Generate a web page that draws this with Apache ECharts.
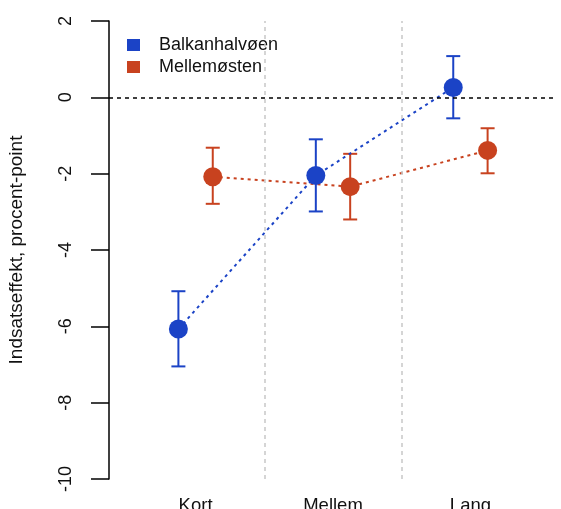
<!DOCTYPE html>
<html>
<head>
<meta charset="utf-8">
<script src="https://cdn.jsdelivr.net/npm/echarts@6/dist/echarts.min.js"></script>
<style>
  html, body { margin: 0; padding: 0; background: #fff; }
  #main { width: 561px; height: 509px; }
</style>
</head>
<body>
<div id="main"></div>
<script>
// data
var categories = ['Kort', 'Mellem', 'Lang'];
var yTicks = [-10, -8, -6, -4, -2, 0, 2];

var balkanEst = [-6.07, -2.05, 0.26];
var balkanLow = [-7.05, -2.99, -0.55];
var balkanHigh = [-5.08, -1.10, 1.08];

var mellemEst = [-2.08, -2.34, -1.39];
var mellemLow = [-2.79, -3.20, -1.99];
var mellemHigh = [-1.32, -1.48, -0.81];

var blue = '#1b43c6';
var red = '#c8421f';
var font = 'Liberation Sans, Arial, sans-serif';

// category i sits at x = i + 1, the two groups are shifted left / right
function points(est, shift) {
  return est.map(function (v, i) { return [i + 1 + shift, v]; });
}
function bars(low, high, shift) {
  return low.map(function (v, i) { return [i + 1 + shift, v, high[i]]; });
}

function errorBar(color) {
  return function (params, api) {
    var lo = api.coord([api.value(0), api.value(1)]);
    var hi = api.coord([api.value(0), api.value(2)]);
    var w = 7;
    var style = { stroke: color, lineWidth: 2 };
    return {
      type: 'group',
      children: [
        { type: 'line', shape: { x1: lo[0], y1: lo[1], x2: hi[0], y2: hi[1] }, style: style },
        { type: 'line', shape: { x1: lo[0] - w, y1: lo[1], x2: lo[0] + w, y2: lo[1] }, style: style },
        { type: 'line', shape: { x1: hi[0] - w, y1: hi[1], x2: hi[0] + w, y2: hi[1] }, style: style }
      ]
    };
  };
}

var myChart = echarts.init(document.getElementById('main'));

var option = {
  backgroundColor: '#fff',
  animation: false,
  textStyle: { fontFamily: font },
  grid: { left: 109, right: 4, top: 21, bottom: 30, outerBoundsMode: 'none', containLabel: false },
  legend: {
    orient: 'vertical',
    left: 127,
    top: 36,
    padding: 0,
    itemGap: 4,
    itemWidth: 13,
    itemHeight: 12,
    icon: 'rect',
    textStyle: { fontSize: 18, color: '#111', padding: [0, 0, 0, 14], fontFamily: font },
    data: [
      { name: 'Balkanhalvøen', itemStyle: { color: blue } },
      { name: 'Mellemøsten', itemStyle: { color: red } }
    ]
  },
  xAxis: {
    type: 'value',
    min: 0.37,
    max: 3.63,
    splitLine: { show: false },
    axisLine: { show: false },
    axisTick: { show: false },
    axisLabel: {
      customValues: [1, 2, 3],
      formatter: function (v) { return categories[Math.round(v) - 1]; },
      fontSize: 18.5,
      color: '#111',
      margin: 17,
      fontFamily: font
    }
  },
  yAxis: {
    type: 'value',
    min: -10,
    max: 2,
    interval: 2,
    name: 'Indsatseffekt, procent-point',
    nameLocation: 'middle',
    nameGap: 83,
    nameRotate: 90,
    nameTextStyle: { fontSize: 19, color: '#111', fontFamily: font },
    splitLine: { show: false },
    axisLine: { show: true, lineStyle: { color: '#000', width: 1.5 } },
    axisTick: { show: true, length: 18, lineStyle: { color: '#000', width: 1.5 } },
    axisLabel: {
      rotate: 90,
      fontSize: 18,
      color: '#111',
      margin: 34,
      fontFamily: font,
      formatter: function (v) { return yTicks.indexOf(v) >= 0 ? String(v) : ''; }
    }
  },
  series: [
    {
      name: 'guides',
      type: 'line',
      data: [],
      silent: true,
      markLine: {
        symbol: 'none',
        silent: true,
        label: { show: false },
        data: [
          { xAxis: 1.5, lineStyle: { color: '#c8c8c8', type: [4, 4], width: 1.5 } },
          { xAxis: 2.5, lineStyle: { color: '#c8c8c8', type: [4, 4], width: 1.5 } },
          { yAxis: 0, lineStyle: { color: '#000', type: [4, 4], width: 1.5 } }
        ]
      }
    },
    {
      name: 'Balkanhalvøen',
      type: 'custom',
      renderItem: errorBar(blue),
      data: bars(balkanLow, balkanHigh, -0.125),
      z: 3
    },
    {
      name: 'Mellemøsten',
      type: 'custom',
      renderItem: errorBar(red),
      data: bars(mellemLow, mellemHigh, 0.125),
      z: 3
    },
    {
      name: 'Balkanhalvøen',
      type: 'line',
      data: points(balkanEst, -0.125),
      symbol: 'circle',
      symbolSize: 19,
      itemStyle: { color: blue },
      lineStyle: { color: blue, width: 2, type: [3, 4] },
      z: 4
    },
    {
      name: 'Mellemøsten',
      type: 'line',
      data: points(mellemEst, 0.125),
      symbol: 'circle',
      symbolSize: 19,
      itemStyle: { color: red },
      lineStyle: { color: red, width: 2, type: [3, 4] },
      z: 4
    }
  ]
};

myChart.setOption(option);
</script>
</body>
</html>
